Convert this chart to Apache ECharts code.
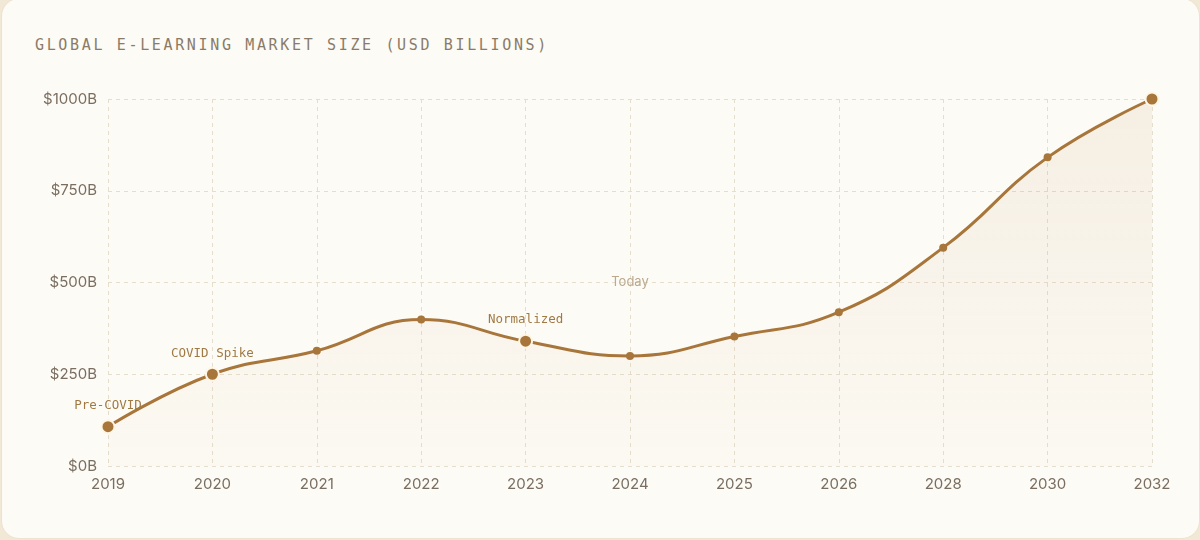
<!DOCTYPE html>
<html>
<head>
<meta charset="utf-8">
<script src="https://cdn.jsdelivr.net/npm/echarts@6/dist/echarts.min.js"></script>
<style>
  html, body { margin: 0; padding: 0; width: 1200px; height: 540px; background: #f1e8d6; overflow: hidden; }
  #card { position: absolute; left: 1px; top: -2px; width: 1197px; height: 539px; background: #fdfbf5;
          border: 1px solid #ece2cf; border-radius: 18px; }
  #title { position: absolute; left: 35px; top: 36px; font-family: "DejaVu Sans Mono", monospace; font-size: 15px;
           letter-spacing: 2.65px; color: #8a7b69; font-weight: normal; }
  #chart { position: absolute; left: 0; top: 0; width: 1200px; height: 540px; }
</style>
</head>
<body>
<div id="card"></div>
<div id="title">GLOBAL E-LEARNING MARKET SIZE (USD BILLIONS)</div>
<div id="chart"></div>
<script>
const years = ['2019','2020','2021','2022','2023','2024','2025','2026','2028','2030','2032'];
const marketSize = [107, 250, 314, 399, 340, 300, 353, 419, 595, 841, 1000];
const annotations = { '2019': 'Pre-COVID', '2020': 'COVID Spike', '2023': 'Normalized' };
const highlightYears = ['2019', '2020', '2023', '2032'];
const yTicks = [0, 250, 500, 750, 1000];
const todayYear = '2024';
const todayLabel = 'Today';

const lineColor = '#a8763a';
const seriesData = years.map((y, i) => {
  const big = highlightYears.includes(y);
  const d = { value: marketSize[i], symbolSize: big ? 13 : 8,
    itemStyle: big ? { color: lineColor, borderColor: '#fff6e6', borderWidth: 2 } : { color: lineColor, borderWidth: 0 } };
  if (annotations[y]) {
    d.label = { show: true, formatter: annotations[y], position: 'top', distance: 7,
      fontFamily: 'DejaVu Sans Mono', fontSize: 12.5, color: '#a07a45' };
  }
  return d;
});

const chart = echarts.init(document.getElementById('chart'), null, { renderer: 'canvas' });
chart.setOption({
  backgroundColor: 'transparent',
  animation: false,
  grid: { left: 108, right: 48, top: 99, bottom: 74 },
  xAxis: {
    type: 'category', data: years, boundaryGap: false,
    axisLine: { show: false }, axisTick: { show: false },
    axisLabel: { color: '#7a6e61', fontSize: 15, margin: 11, fontFamily: 'Inter, Roboto, sans-serif' },
    splitLine: { show: true, lineStyle: { color: '#e6decd', type: [4, 4], width: 1 } }
  },
  yAxis: {
    type: 'value', min: 0, max: 1000, interval: 250,
    axisLine: { show: false }, axisTick: { show: false },
    axisLabel: { color: '#7a6e61', fontSize: 15, margin: 11, fontFamily: 'Inter, Roboto, sans-serif',
      formatter: v => yTicks.includes(v) ? '$' + v + 'B' : '' },
    splitLine: { show: true, lineStyle: { color: '#e6decd', type: [4, 4], width: 1 } }
  },
  series: [{
    type: 'line', data: seriesData, smooth: 0.45, symbol: 'circle', showAllSymbol: true,
    lineStyle: { color: lineColor, width: 3 },
    itemStyle: { color: lineColor },
    areaStyle: { color: new echarts.graphic.LinearGradient(0, 0, 0, 1, [
      { offset: 0, color: 'rgba(168,118,58,0.13)' },
      { offset: 1, color: 'rgba(168,118,58,0.02)' }
    ]) },
    markPoint: {
      symbol: 'circle', symbolSize: 0, silent: true,
      data: [{ coord: [todayYear, 500], value: todayLabel }],
      label: { show: true, formatter: todayLabel, position: 'inside', color: '#bba98f', fontSize: 13,
        fontFamily: 'Inter, Roboto, sans-serif' }
    }
  }]
});
</script>
</body>
</html>
